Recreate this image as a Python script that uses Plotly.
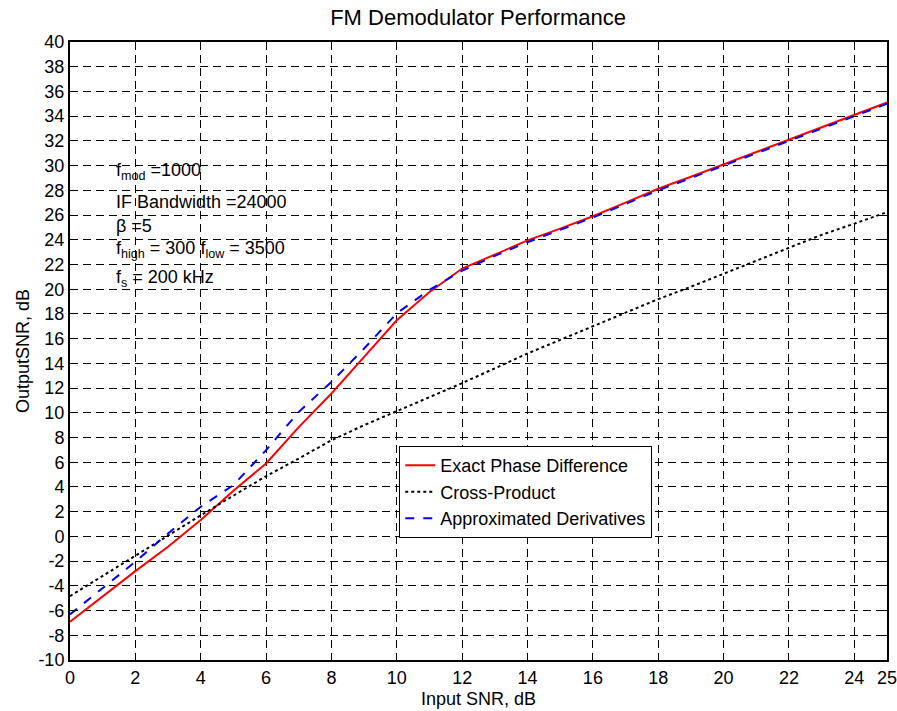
import plotly.graph_objects as go

input_snr = list(range(0, 26))

exact_phase = [-6.9, -4.85, -2.81, -0.84, 1.32, 3.7, 5.9, 8.84, 11.56, 14.52,
               17.49, 19.77, 21.67, 22.8, 23.95, 24.9, 25.9, 27.0, 28.13, 29.1,
               30.1, 31.05, 32.04, 33.1, 34.1, 35.1]

cross_product = [-4.83, -3.2, -1.51, 0.1, 1.7, 3.3, 4.87, 6.3, 7.78, 9.0,
                 10.13, 11.3, 12.4, 13.6, 14.8, 15.9, 17.0, 18.1, 19.2, 20.2,
                 21.26, 22.3, 23.4, 24.4, 25.3, 26.24]

approx_deriv = [-6.31, -4.2, -2.05, 0.24, 2.4, 4.15, 6.98, 10.07, 12.5, 15.2,
                18.05, 19.95, 21.5, 22.7, 23.8, 24.8, 25.8, 26.9, 28.0, 29.0,
                30.0, 31.0, 32.0, 33.0, 34.0, 35.0]

x_ticks = [0, 2, 4, 6, 8, 10, 12, 14, 16, 18, 20, 22, 24, 25]
y_ticks = list(range(-10, 41, 2))
x_tick_labels = [str(v) for v in x_ticks]
y_tick_labels = [str(v) for v in y_ticks]

info_lines = [
    "f<sub>mod</sub> =1000",
    "IF Bandwidth =24000",
    "\u03b2 =5",
    "f<sub>high</sub> = 300 f<sub>low</sub> = 3500",
    "f<sub>s</sub> = 200 kHz",
]
info_y = [29.5, 27.05, 25.1, 23.25, 20.9]

FONT = "Liberation Sans, Arial, sans-serif"

fig = go.Figure()
fig.add_trace(go.Scatter(x=input_snr, y=exact_phase, mode="lines",
                         name="Exact Phase Difference",
                         line=dict(color="#FF0000", width=2)))
fig.add_trace(go.Scatter(x=input_snr, y=cross_product, mode="lines",
                         name="Cross-Product",
                         line=dict(color="#000000", width=2, dash="dot")))
fig.add_trace(go.Scatter(x=input_snr, y=approx_deriv, mode="lines",
                         name="Approximated Derivatives",
                         line=dict(color="#0000FF", width=2, dash="dash")))

for txt, yy in zip(info_lines, info_y):
    fig.add_annotation(x=1.35, y=yy, xref="x", yref="y", text=txt,
                       showarrow=False, xanchor="left", yanchor="middle",
                       font=dict(family=FONT, size=18, color="black"))

axis_common = dict(
    showline=True, linecolor="black", linewidth=2, mirror="ticks",
    ticks="inside", ticklen=6, tickwidth=1, tickcolor="black",
    showgrid=True, gridcolor="black", gridwidth=1, griddash="8px,5px",
    zeroline=False, automargin=False, ticklabeloverflow="allow",
    tickfont=dict(family=FONT, size=18, color="black"),
)

fig.update_xaxes(range=[0, 25], tickvals=x_ticks, ticktext=x_tick_labels,
                 title=dict(text="Input SNR, dB", standoff=6,
                            font=dict(family=FONT, size=18, color="black")),
                 **axis_common)
fig.update_yaxes(range=[-10, 40], tickvals=y_ticks, ticktext=y_tick_labels,
                 title=dict(text="OutputSNR, dB", standoff=4,
                            font=dict(family=FONT, size=18, color="black")),
                 **axis_common)

fig.update_layout(
    width=897, height=711,
    margin=dict(l=70, r=10, t=42, b=51, autoexpand=False),
    paper_bgcolor="white", plot_bgcolor="white",
    title=dict(text="FM Demodulator Performance", x=0.533, xanchor="center",
               y=0.975, yanchor="middle",
               font=dict(family=FONT, size=22, color="black")),
    legend=dict(x=0.403, y=0.346, xanchor="left", yanchor="top",
                bgcolor="white", bordercolor="black", borderwidth=1,
                font=dict(family=FONT, size=18, color="black"),
                entrywidth=240, entrywidthmode="pixels",
                tracegroupgap=0),
    showlegend=True,
)

fig.write_html("out.html")
